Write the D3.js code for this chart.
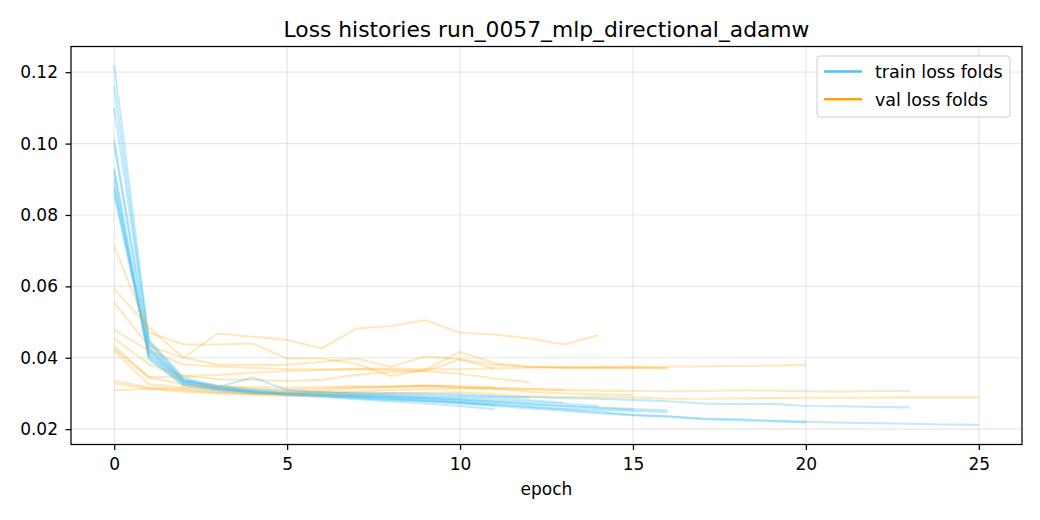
<!DOCTYPE html>
<html><head><meta charset="utf-8">
<script src="https://cdn.jsdelivr.net/npm/d3@7"></script>
<style>body{margin:0;background:#fff;} svg{display:block;font-family:"DejaVu Sans",sans-serif;}</style>
</head><body><svg id="c" width="1040" height="520"></svg>
<script>
const title = "Loss histories run_0057_mlp_directional_adamw";
const xTicks = [0, 5, 10, 15, 20, 25];
const yTicks = [0.02, 0.04, 0.06, 0.08, 0.10, 0.12];
const legendLabels = ["train loss folds", "val loss folds"];

const trainFolds = [
  [0.110,0.0445,0.0340,0.0318,0.0305,0.0298,0.0293,0.0288,0.0284,0.0280,0.0276,0.0270,0.0262,0.0255,0.0248,0.0240,0.0236,0.0230,0.0228,0.0224,0.0221,0.0218,0.0217,0.0215,0.0213,0.0212],
  [0.0995,0.0420,0.0335,0.0322,0.0312,0.0307,0.0303,0.0300,0.0298,0.0295,0.0293,0.0291,0.0290,0.0287,0.0285,0.0282,0.0278,0.0272,0.0270,0.0271,0.0265,0.0264,0.0262,0.0261],
  [0.122,0.0450,0.0345,0.0320,0.0308,0.0300,0.0295,0.0290,0.0285,0.0279,0.0273,0.0265,0.0258,0.0252,0.0245,0.0239,0.0235,0.0228,0.0225,0.0222,0.0219],
  [0.116,0.0440,0.0338,0.0315,0.0303,0.0297,0.0292,0.0287,0.0282,0.0278,0.0273,0.0268,0.0263,0.0258,0.0254,0.0251,0.0248],
  [0.093,0.0410,0.0330,0.0312,0.0305,0.0300,0.0297,0.0293,0.0290,0.0286,0.0280,0.0275,0.0270,0.0265,0.0260,0.0256,0.0253],
  [0.101,0.0430,0.0335,0.0318,0.0345,0.0310,0.0303,0.0298,0.0293,0.0288,0.0283,0.0277,0.0270,0.0265,0.0260,0.0255],
  [0.092,0.0400,0.0325,0.0310,0.0302,0.0298,0.0296,0.0293,0.0290,0.0287,0.0284,0.0280,0.0276,0.0271,0.0265],
  [0.090,0.0396,0.0322,0.0308,0.0300,0.0297,0.0296,0.0295,0.0293,0.0291,0.0289,0.0286,0.0281,0.0274],
  [0.088,0.0405,0.0328,0.0313,0.0306,0.0303,0.0302,0.0302,0.0301,0.0300,0.0297,0.0292,0.0288],
  [0.0855,0.0415,0.0332,0.0314,0.0302,0.0295,0.0290,0.0284,0.0278,0.0272,0.0265,0.0256],
  [0.087,0.0425,0.0336,0.0316,0.0306,0.0300,0.0296,0.0292,0.0288,0.0283,0.0276,0.0268]
];
const valFolds = [
  [0.0309,0.0313,0.0310,0.0302,0.0297,0.0292,0.0295,0.0298,0.0300,0.0302,0.0303,0.0298,0.0292,0.0290,0.0291,0.0289,0.0285,0.0285,0.0286,0.0287,0.0288,0.0288,0.0288,0.0289,0.0289,0.0289],
  [0.0335,0.0317,0.0313,0.0305,0.0302,0.0300,0.0303,0.0305,0.0310,0.0312,0.0313,0.0314,0.0312,0.0310,0.0308,0.0307,0.0306,0.0307,0.0309,0.0308,0.0306,0.0305,0.0307,0.0307],
  [0.0712,0.0471,0.0437,0.0437,0.0440,0.0398,0.0398,0.0383,0.0349,0.0367,0.0416,0.0385,0.0375,0.0372,0.0374,0.0376,0.0375,0.0376,0.0377,0.0378,0.0380],
  [0.0554,0.0433,0.0401,0.0380,0.0380,0.0380,0.0389,0.0398,0.0375,0.0404,0.0396,0.0380,0.0375,0.0372,0.0371,0.0372,0.0370],
  [0.0479,0.0419,0.0382,0.0375,0.0372,0.0368,0.0368,0.0369,0.0370,0.0368,0.0368,0.0370,0.0372,0.0374,0.0373,0.0372,0.0372],
  [0.0328,0.0313,0.0305,0.0300,0.0297,0.0300,0.0308,0.0315,0.0318,0.0320,0.0316,0.0313,0.0305,0.0300,0.0298,0.0296],
  [0.0593,0.0485,0.0400,0.0468,0.0459,0.0450,0.0426,0.0482,0.0489,0.0505,0.0470,0.0465,0.0454,0.0437,0.0463],
  [0.0419,0.0326,0.0317,0.0316,0.0312,0.0310,0.0313,0.0318,0.0320,0.0322,0.0318,0.0315,0.0313,0.0309],
  [0.0433,0.0345,0.0349,0.0352,0.0358,0.0362,0.0365,0.0368,0.0366,0.0362,0.0355,0.0342,0.0332],
  [0.0454,0.0382,0.0349,0.0340,0.0338,0.0335,0.0338,0.0352,0.0360,0.0363,0.0395,0.0370],
  [0.0425,0.0345,0.0326,0.0320,0.0318,0.0316,0.0318,0.0320,0.0318,0.0322,0.0320,0.0317]
];

const trainColor = "#4fc3f7", valColor = "#ffa500";
const M = {left:71, right:1022, top:46.5, bottom:444.5};
const svg = d3.select("#c");
const x = d3.scaleLinear().domain([-1.25, 26.25]).range([M.left, M.right]);
const y = d3.scaleLinear().domain([0.0157, 0.1272]).range([M.bottom, M.top]);

// grid
const g = svg.append("g");
g.selectAll(".gx").data(xTicks).join("line")
  .attr("x1", d=>x(d)).attr("x2", d=>x(d)).attr("y1", M.top).attr("y2", M.bottom)
  .attr("stroke", "#b0b0b0").attr("stroke-opacity", 0.3).attr("stroke-width", 1.2);
g.selectAll(".gy").data(yTicks).join("line")
  .attr("y1", d=>y(d)).attr("y2", d=>y(d)).attr("x1", M.left).attr("x2", M.right)
  .attr("stroke", "#b0b0b0").attr("stroke-opacity", 0.3).attr("stroke-width", 1.2);

const line = d3.line().x((d,i)=>x(i)).y(d=>y(d));
svg.append("clipPath").attr("id","clp").append("rect")
  .attr("x", M.left).attr("y", M.top).attr("width", M.right-M.left).attr("height", M.bottom-M.top);
const plot = svg.append("g").attr("clip-path","url(#clp)");
plot.selectAll(".tr").data(trainFolds).join("path")
  .attr("d", line).attr("fill","none").attr("stroke", trainColor)
  .attr("stroke-opacity", 0.35).attr("stroke-width", 2.1).attr("stroke-linejoin","round");
plot.selectAll(".va").data(valFolds).join("path")
  .attr("d", line).attr("fill","none").attr("stroke", valColor)
  .attr("stroke-opacity", 0.25).attr("stroke-width", 2.1).attr("stroke-linejoin","round");

// axes
const xAxis = d3.axisBottom(x).tickValues(xTicks).tickSize(5.5).tickPadding(8).tickFormat(d3.format("d"));
const yAxis = d3.axisLeft(y).tickValues(yTicks).tickSize(5.5).tickPadding(7.5).tickFormat(d3.format(".2f"));
const gx = svg.append("g").attr("transform", `translate(0,${M.bottom})`).call(xAxis);
const gy = svg.append("g").attr("transform", `translate(${M.left},0)`).call(yAxis);
[gx, gy].forEach(a => {
  a.select(".domain").remove();
  a.selectAll(".tick line").attr("stroke","#000").attr("stroke-width",1.25);
  a.selectAll(".tick text").attr("fill","#000").style("font-size","17px").style("font-family","DejaVu Sans");
});
svg.append("rect").attr("x", M.left).attr("y", M.top).attr("width", M.right-M.left).attr("height", M.bottom-M.top)
  .attr("fill","none").attr("stroke","#000").attr("stroke-width",1.25);

svg.append("text").attr("x", (M.left+M.right)/2).attr("y", 36.7).attr("text-anchor","middle")
  .style("font-size","21.8px").attr("fill","#000").text(title);
svg.append("text").attr("x", (M.left+M.right)/2).attr("y", 495).attr("text-anchor","middle")
  .style("font-size","17px").attr("fill","#000").text("epoch");

// legend
const lg = svg.append("g");
lg.append("rect").attr("x", 817).attr("y", 56).attr("width", 193).attr("height", 61).attr("rx", 3)
  .attr("fill","#fff").attr("fill-opacity",0.8).attr("stroke","#cccccc").attr("stroke-width",1);
const lc = [trainColor, valColor];
lg.selectAll(".li").data(legendLabels).join("line")
  .attr("x1", 824).attr("x2", 862).attr("y1", (d,i)=>71.5+i*27.8).attr("y2", (d,i)=>71.5+i*27.8)
  .attr("stroke", (d,i)=>lc[i]).attr("stroke-width", 2.5);
lg.selectAll(".lt").data(legendLabels).join("text")
  .attr("x", 875).attr("y", (d,i)=>78+i*27.8).style("font-size","17.5px").attr("fill","#000").text(d=>d);
</script></body></html>
